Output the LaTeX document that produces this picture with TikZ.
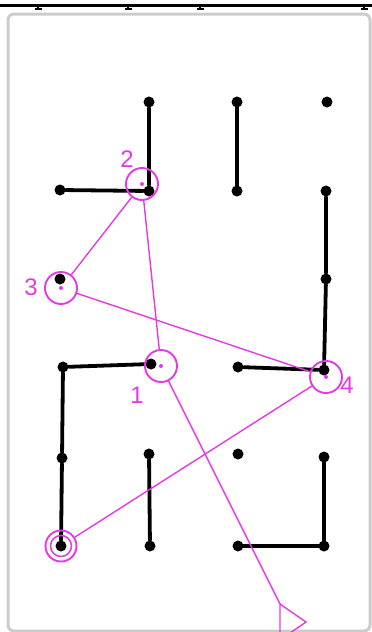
\documentclass[tikz,border=0pt]{standalone}
\usepackage{fontspec}
\setsansfont{Liberation Sans}
\usepackage{tikz}
\usetikzlibrary{positioning}
\definecolor{trackpink}{RGB}{228,58,228}
\tikzstyle{peg}=[circle, fill=black, inner sep=0pt, minimum size=11pt]
\tikzstyle{wall}=[line width=3.8pt, line cap=round]
\tikzstyle{stop}=[circle, draw=trackpink, line width=1.9pt, inner sep=0pt, minimum size=32pt]
\tikzstyle{track}=[draw=trackpink, line width=1.4pt]
\tikzstyle{num}=[text=trackpink, font=\sffamily\fontsize{24}{24}\selectfont, inner sep=0pt]

\begin{document}
\begin{tikzpicture}[x=1pt, y=-1pt]
	\useasboundingbox (0,0) rectangle (372,632);

	% rule on top and frame
	\draw[line width=3pt] (0,5) -- (372,5);
	\foreach \t in {38,128,200,364}
		\draw[line width=2pt] (\t,5) -- (\t,9) (\t-3.5,8.5) -- (\t+3.5,8.5);
	\draw[gray!40, line width=3pt, rounded corners=6pt] (8,14) rectangle (370,631);

	% pegs
	\node (p12) [peg] at (149,102) {};
	\node (p13) [peg] at (237,102) {};
	\node (p14) [peg] at (327,102) {};
	\node (p21) [peg] at (60,190) {};
	\node (p22) [peg] at (149,191) {};
	\node (p23) [peg] at (237,191) {};
	\node (p24) [peg] at (326,191) {};
	\node (p31) [peg] at (60,279) {};
	\node (p34) [peg] at (326,279) {};
	\node (p41) [peg] at (63,367) {};
	\node (p42) [peg] at (151,364) {};
	\node (p43) [peg] at (238,367) {};
	\node (p44) [peg] at (324,370) {};
	\node (p51) [peg] at (62,458) {};
	\node (p52) [peg] at (149,454) {};
	\node (p53) [peg] at (238,454) {};
	\node (p54) [peg] at (324,457) {};
	\node (p61) [peg] at (61,546) {};
	\node (p62) [peg] at (150,546) {};
	\node (p63) [peg] at (238,546) {};
	\node (p64) [peg] at (324,546) {};

	% walls
	\draw[wall] (p12) -- (p22) -- (p21);
	\draw[wall] (p13) -- (p23);
	\draw[wall] (p24) -- (p34) -- (p44) -- (p43);
	\draw[wall] (p42) -- (p41) -- (p51) -- (p61);
	\draw[wall] (p52) -- (p62);
	\draw[wall] (p54) -- (p64) -- (p63);

	% stops
	\node (st) [stop, minimum size=31pt] at (61,546) {};
	\node (stin) [stop, minimum size=21pt, line width=1.5pt] at (st) {};
	\node (s1) [stop] at (161,366) {};
	\node (s2) [stop] at (142,184) {};
	\node (s3) [stop] at (61,288) {};
	\node (s4) [stop] at (326,377) {};
	\coordinate (fin) at (280,604);

	\foreach \s in {s1,s2,s3,s4}
		\fill[trackpink] (\s) circle (2pt);

	\node (n1) [num] at (137,395) {1};
	\node (n2) [num] at (127,159) {2};
	\node (n3) [num] at (31,287) {3};
	\node (n4) [num] at (347,385) {4};

	% route
	\draw[track] (st) -- (s4) -- (s3) -- (s2) -- (s1) -- (fin);
	\draw[track, line join=miter] (fin) -- ++(26,18) -- ++(-26,18) -- cycle;

\end{tikzpicture}
\end{document}
